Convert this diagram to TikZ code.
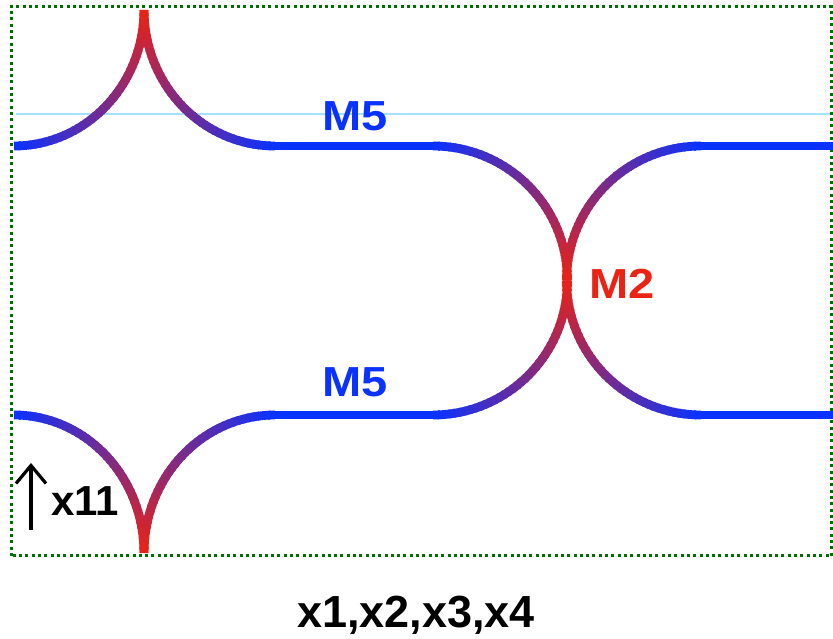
\documentclass[tikz,border=0pt]{standalone}
\usepackage{fontspec}
\setmainfont{Liberation Sans}
\newfontfamily\widefont[FakeStretch=1.12]{Liberation Sans}
\usetikzlibrary{arrows.meta}
\definecolor{mblue}{RGB}{10,50,255}
\definecolor{mred}{RGB}{235,35,20}
\definecolor{bgreen}{RGB}{0,110,0}
\definecolor{lcyan}{RGB}{165,225,250}
\tikzset{
  wire/.style={line width=8.8pt, line cap=butt},
  lbl/.style={font=\bfseries\fontsize{40}{40}\selectfont, inner sep=0pt},
  mlbl/.style={font=\widefont\bfseries\fontsize{42}{42}\selectfont, inner sep=0pt},
}
% gradient arc: centre x, centre y, x radius, y radius, start angle (blue), end angle (red)
\newcommand\gradarc[6]{%
  \foreach \gi in {1,...,40}{%
    \pgfmathsetmacro\ga{#5+(#6-#5)*(\gi-1)/40}%
    \pgfmathsetmacro\gb{#5+(#6-#5)*(\gi+0.4)/40}%
    \ifnum\gi=40 \pgfmathsetmacro\gb{#6}\fi
    \pgfmathtruncatemacro\gp{100*(\gi-0.5)/40}%
    \draw[wire, draw=mred!\gp!mblue] (#1,#2) ++(\ga:#3 and #4) arc[start angle=\ga, end angle=\gb, x radius=#3, y radius=#4];
  }%
}
\begin{document}
\begin{tikzpicture}[x=1pt,y=1pt]
\useasboundingbox (0,0) rectangle (833,639);
% thin cyan guide line
\coordinate (c1) at (16,525);
\coordinate (c2) at (833,525);
\draw[lcyan, line width=1.2pt] (c1) -- (c2);
% dotted frame
\coordinate (f1) at (11,83);
\coordinate (f2) at (831.5,632);
\draw[bgreen, line width=3pt, dash pattern=on 3pt off 3.3pt] (f1) rectangle (f2);
% top cusp
\gradarc{14}{629}{130}{136}{270}{360}
\gradarc{275}{629}{131}{136}{270}{180}
% bottom cusp
\gradarc{14}{86}{130}{138}{90}{0}
\gradarc{275}{86}{131}{138}{90}{180}
% straight blue lines
\coordinate (t1) at (274.5,493);
\coordinate (t2) at (433.5,493);
\coordinate (b1) at (274.5,224);
\coordinate (b2) at (433.5,224);
\coordinate (t3) at (700.5,493);
\coordinate (t4) at (833,493);
\coordinate (b3) at (700.5,224);
\coordinate (b4) at (833,224);
\draw[wire, mblue] (t1) -- (t2);
\draw[wire, mblue] (b1) -- (b2);
\draw[wire, mblue] (t3) -- (t4);
\draw[wire, mblue] (b3) -- (b4);
% the two touching circles
\gradarc{433}{358.5}{134.5}{134.5}{90}{0}
\gradarc{433}{358.5}{134.5}{134.5}{-90}{0}
\gradarc{701}{358.5}{134.5}{134.5}{90}{180}
\gradarc{701}{358.5}{134.5}{134.5}{270}{180}
% labels
\node[mlbl, text=mblue, anchor=base] (m5a) at (355,508.5) {M5};
\node[mlbl, text=mblue, anchor=base] (m5b) at (355,242) {M5};
\node[mlbl, text=mred, anchor=base west] (m2) at (589,340.5) {M2};
\node[lbl, font=\bfseries\fontsize{42}{42}\selectfont, anchor=base west] (x11) at (51,123) {x11};
\node[lbl, font=\bfseries\fontsize{45}{45}\selectfont, anchor=base] (cap) at (416,11) {x1,x2,x3,x4};
% arrow
\coordinate (ab) at (31,109);
\coordinate (at) at (31,176);
\draw[line width=3.2pt, -{Straight Barb[length=18pt,width=30pt]}] (ab) -- (at);
\end{tikzpicture}
\end{document}
